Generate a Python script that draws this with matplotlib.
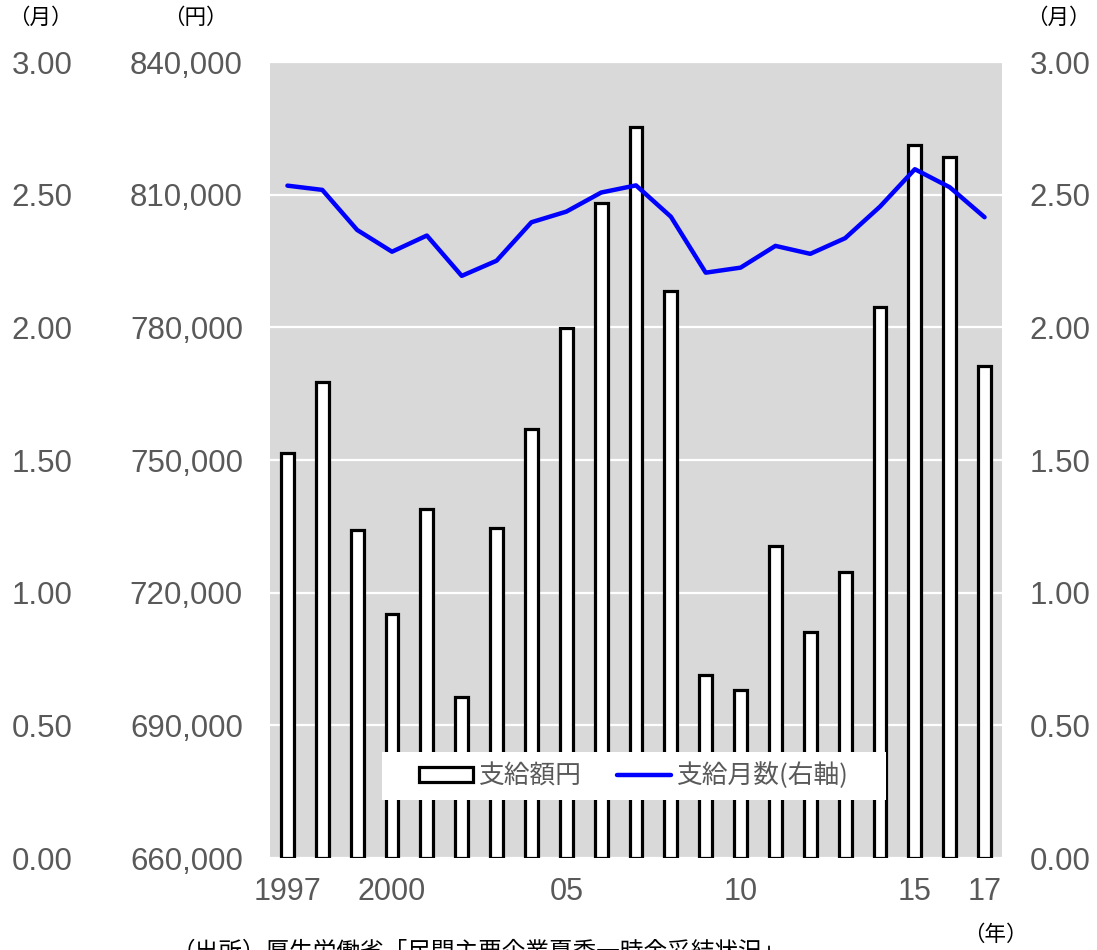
import numpy as np
import matplotlib
matplotlib.use("Agg")
import matplotlib.pyplot as plt
from matplotlib.patches import Patch, Rectangle
from matplotlib.lines import Line2D

plt.rcParams['font.family'] = ['Liberation Sans', 'Noto Sans CJK JP', 'DejaVu Sans']

# data
years = list(range(1997, 2018))
amount_yen = [751560, 767600, 734150, 715160, 738900, 696400, 734600, 756990,
              779820, 808080, 825260, 788180, 701370, 697980, 730540, 711090,
              724660, 784570, 821190, 818480, 771230]
months = [2.534, 2.518, 2.367, 2.285, 2.346, 2.194, 2.251, 2.396, 2.436, 2.508,
          2.535, 2.417, 2.206, 2.225, 2.307, 2.277, 2.336, 2.455, 2.596, 2.528, 2.415]
xtick_years = [1997, 2000, 2005, 2010, 2015, 2017]
xtick_labels = ["1997", "2000", "05", "10", "15", "17"]
yen_ticks = list(range(660000, 840001, 30000))
month_ticks = [0.0, 0.5, 1.0, 1.5, 2.0, 2.5, 3.0]

GREY_TXT = "#595959"
CJK = ['Noto Sans CJK JP', 'DejaVu Sans']
TICK_SIZE = 22.5

W, H = 1097, 950
fig = plt.figure(figsize=(W / 100, H / 100), dpi=100)
ax_l, ax_b, ax_w, ax_h = 270, 858, 732, 796
ax = fig.add_axes([ax_l / W, (H - ax_b) / H, ax_w / W, ax_h / H])
ax.set_facecolor("#D9D9D9")

x = np.arange(len(years))
ax.set_axisbelow(True)
ax.bar(x, [a - 660000 for a in amount_yen], bottom=660000, width=0.37,
       color="white", edgecolor="black", linewidth=2.3, zorder=3)
ax.set_ylim(660000, 840000)
ax.set_xlim(-0.5, len(years) - 0.5)
ax.set_yticks(yen_ticks)
ax.set_yticklabels([f"{v:,}" for v in yen_ticks])
ax.grid(axis="y", color="white", linewidth=1.6)
ax.set_xticks([years.index(y) for y in xtick_years])
ax.set_xticklabels(xtick_labels)
ax.tick_params(axis="x", length=0, labelsize=22, labelcolor=GREY_TXT, pad=14)
ax.tick_params(axis="y", length=0, labelsize=TICK_SIZE, labelcolor=GREY_TXT, pad=19.5)
for s in ax.spines.values():
    s.set_visible(False)

# far-left month axis (same scale as the right one); pad is in points
ax3 = ax.twinx()
ax3.yaxis.tick_left()
ax3.set_ylim(0, 3)
ax3.set_yticks(month_ticks)
ax3.set_yticklabels([f"{v:.2f}" for v in month_ticks])
ax3.tick_params(axis="y", length=0, labelsize=TICK_SIZE, labelcolor=GREY_TXT, pad=142)
for s in ax3.spines.values():
    s.set_visible(False)

ax2 = ax.twinx()
ax2.plot(x, months, color="#0000FF", linewidth=3.2, solid_joinstyle="round",
         solid_capstyle="round", zorder=4)
ax2.set_ylim(0, 3)
ax2.set_yticks(month_ticks)
ax2.set_yticklabels([f"{v:.2f}" for v in month_ticks])
ax2.tick_params(axis="y", length=0, labelsize=TICK_SIZE, labelcolor=GREY_TXT, pad=20)
for s in ax2.spines.values():
    s.set_visible(False)

# white legend box covering the bars
bx0, bx1, by0, by1 = 382, 886, 752, 800
ax2.add_patch(Rectangle(((bx0 - ax_l) / ax_w, (ax_b - by1) / ax_h),
                        (bx1 - bx0) / ax_w, (by1 - by0) / ax_h,
                        transform=ax2.transAxes, facecolor="white",
                        edgecolor="none", zorder=8))

handles = [Patch(facecolor="white", edgecolor="black", linewidth=2.3),
           Line2D([0], [0], color="#0000FF", linewidth=3.2, solid_capstyle="round")]
leg = ax2.legend(handles, ["支給額円", "支給月数(右軸)"], loc="center",
                 bbox_to_anchor=(((bx0 + bx1) / 2 - ax_l) / ax_w,
                                 (ax_b - (by0 + by1) / 2) / ax_h),
                 ncol=2, frameon=False,
                 prop={"family": CJK, "size": 18.5}, handlelength=2.1,
                 handleheight=0.55, handletextpad=0.25, columnspacing=1.35,
                 borderpad=0, borderaxespad=0)
for t in leg.get_texts():
    t.set_color(GREY_TXT)
leg.set_zorder(10)

# unit labels
fig.text(40 / W, 1 - 18 / H, "（月）", ha="center", va="center", fontsize=15.5, family=CJK)
fig.text(195 / W, 1 - 18 / H, "（円）", ha="center", va="center", fontsize=15.5, family=CJK)
fig.text(1058 / W, 1 - 18 / H, "（月）", ha="center", va="center", fontsize=15.5, family=CJK)
fig.text(995 / W, 1 - 935 / H, "（年）", ha="center", va="center", fontsize=15.5, family=CJK)

# source note, cut off by the bottom edge in the reference
fig.text(172 / W, 1 - 941 / H, "（出所）厚生労働省「民間主要企業夏季一時金妥結状況」",
         ha="left", va="top", fontsize=17, family=CJK)

fig.savefig("out.png", dpi=100)
